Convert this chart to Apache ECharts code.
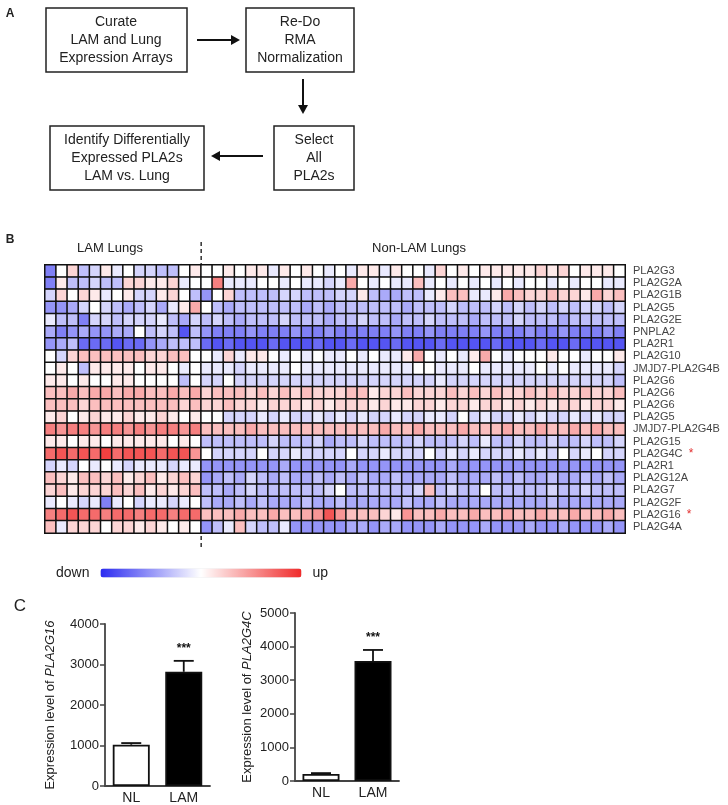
<!DOCTYPE html>
<html><head><meta charset="utf-8">
<script src="https://cdn.jsdelivr.net/npm/echarts@6/dist/echarts.min.js"></script>
<style>html,body{margin:0;padding:0;background:#fff}#c{width:728px;height:805px}</style>
</head><body><div id="c"></div>
<script>
// ---------- DATA ----------
const rowLabels = ['PLA2G3','PLA2G2A','PLA2G1B','PLA2G5','PLA2G2E','PNPLA2','PLA2R1','PLA2G10','JMJD7-PLA2G4B','PLA2G6','PLA2G6','PLA2G6','PLA2G5','JMJD7-PLA2G4B','PLA2G15','PLA2G4C','PLA2R1','PLA2G12A','PLA2G7','PLA2G2F','PLA2G16','PLA2G4A'];
const starredRows = [15, 20];
// LAM lungs (14 samples), value scale -10 (down) .. 10 (up)
const lamValues = [
 [-6,0,2,-3,-2,1,-1,0,-2,-2,-3,-3,0,1],
 [-6,1,-3,-3,-2,-3,-3,2,2,1,1,2,-1,0],
 [-2,2,0,2,1,-1,0,1,-2,-2,1,2,0,-3],
 [-5,-5,-4,-2,0,-2,-3,-4,-3,-2,-4,-1,1,4],
 [-1,-3,-3,-6,-2,-2,-3,-2,-2,-2,-1,-3,-4,-2],
 [-4,-6,-5,-4,-5,-5,-4,-4,0,-3,-2,-3,-8,-3],
 [-5,-4,-3,-7,-7,-7,-8,-7,-7,-5,-4,-3,-3,-3],
 [0,-2,2,3,3,3,3,3,3,2,2,3,3,0],
 [0,1,0,-3,1,1,1,1,0,1,1,0,-1,0],
 [1,1,0,1,0,0,1,1,0,0,0,0,-3,0],
 [3,3,4,3,4,4,3,4,4,3,3,4,3,4],
 [3,3,3,2,3,3,3,3,3,3,3,3,2,3],
 [1,2,0,1,2,1,1,2,1,1,2,1,0,1],
 [6,5,6,6,5,6,6,5,6,5,6,6,5,6],
 [1,1,0,1,1,0,1,1,1,1,1,0,1,0],
 [7,8,7,8,7,9,7,8,8,8,7,8,8,5],
 [-2,-1,-2,0,-1,0,-1,-2,-1,-1,-1,-2,-1,-1],
 [3,2,1,3,3,2,3,1,2,3,1,2,3,2],
 [2,3,1,2,2,2,3,2,3,1,2,1,2,3],
 [-1,0,-1,-2,-1,-6,-1,0,-2,-1,-1,-2,-1,0],
 [6,7,8,7,7,6,7,7,6,7,7,6,7,7],
 [3,-1,2,2,2,0,2,2,1,2,1,0,1,0]
];
// Non-LAM lungs (38 samples)
const nonLamValues = [
 [0,0,1,0,1,1,-1,1,0,1, 0,-1,0,-1,1,1,-1,1,0,0, -1,2,0,1,0,1,1,1,1,1, 2,1,2,0,1,1,1,0],
 [0,6,-1,-1,-1,0,0,-1,0,-1, -1,-2,-1,4,0,-1,0,-1,-1,3, -1,0,-1,0,-1,0,-1,0,-1,0, 0,-1,0,-1,0,0,-1,-1],
 [-5,0,2,-3,-3,-3,-3,-2,-2,-3, -3,-3,-2,-2,1,-3,-4,-4,-3,-3, -1,1,3,3,-1,-1,1,4,3,2, 2,3,2,2,1,4,2,3],
 [0,-3,-4,-3,-3,-3,-3,-3,-3,-4, -3,-4,-3,-3,-3,-3,-3,-3,-4,-3, -3,-3,-2,-3,-3,-3,-2,-3,-2,-3, -2,-3,-2,-3,-2,-2,-3,-2],
 [-3,-2,-3,-4,-3,-3,-3,-2,-3,-3, -3,-4,-3,-3,-2,-3,-3,-4,-3,-3, -2,-3,-3,-3,-4,-3,-3,-3,-2,-3, -3,-3,-4,-3,-3,-3,-3,-3],
 [-5,-6,-6,-6,-5,-6,-6,-6,-5,-6, -6,-5,-6,-6,-6,-6,-6,-5,-6,-6, -5,-6,-6,-6,-6,-5,-6,-6,-6,-5, -6,-6,-5,-6,-6,-6,-5,-6],
 [-7,-8,-7,-8,-8,-8,-7,-8,-8,-8, -7,-8,-8,-7,-8,-8,-8,-7,-8,-8, -8,-7,-8,-8,-8,-8,-7,-8,-8,-8, -7,-8,-8,-7,-8,-8,-8,-8],
 [0,-1,2,-1,1,1,0,-1,0,-1, 0,-1,-1,0,-1,0,-1,-1,1,4, 0,-1,0,-1,1,4,0,-1,0,0, 0,1,0,0,-1,0,0,1],
 [-1,-1,-1,-2,-1,-1,-1,-1,0,-1, -1,-1,-1,-1,-1,-1,-1,-1,-1,0, 0,-1,-1,-1,0,-1,-1,-1,-1,-1, 0,-1,0,-1,-1,-1,-1,-2],
 [-2,-2,0,-2,-2,-2,-2,-2,-2,-2, -2,-2,-2,-2,-2,-2,-2,-2,-2,-2, -2,-1,-2,-2,-2,-2,-2,-2,-2,-2, -2,-2,-2,-2,-2,-2,-2,-3],
 [2,3,3,3,2,3,2,3,2,3, 2,2,2,3,3,1,2,2,3,2, 2,2,3,2,3,2,3,2,2,3, 2,3,2,2,3,2,2,3],
 [2,2,3,2,2,1,2,2,2,1, 2,1,2,2,2,1,2,1,1,2, 2,1,2,2,1,2,2,1,2,1, 2,1,2,2,1,2,2,1],
 [0,0,-2,-2,-2,-1,-2,-1,-2,-2, -1,-2,-1,-2,-1,-2,-2,-1,-2,-2, -1,-1,-2,0,-2,-1,-2,-2,-1,-2, -1,-2,-2,-1,-2,-1,-2,-2],
 [3,3,3,3,4,3,3,3,3,3, 3,3,3,3,3,3,4,3,3,4, 3,3,3,4,3,3,3,4,3,3, 4,3,3,4,3,4,3,3],
 [-3,-3,-3,-3,-3,-3,-2,-3,-3,-3, -2,-4,-3,-3,-2,-3,-3,-3,-3,-2, -3,-3,-3,-2,-3,-1,-3,-3,-2,-3, -3,-2,-3,-3,-2,-3,-3,-2],
 [0,-2,-2,-2,-2,0,-2,-2,-1,-2, -2,-2,-2,0,-2,-2,-1,-2,-2,-2, 0,-2,-1,-2,-1,-2,-2,-2,-1,-2, -1,-2,0,-2,-1,0,-2,-2],
 [-5,-5,-5,-5,-5,-5,-5,-4,-5,-5, -5,-5,-5,-4,-5,-5,-5,-5,-5,-5, -5,-5,-4,-5,-5,-5,-5,-5,-5,-5, -5,-5,-5,-5,-5,-5,-5,-5],
 [-5,-4,-3,-4,-2,-3,-4,-3,-4,-4, -3,-4,-3,-4,-3,-4,-4,-3,-4,-4, -4,-4,-3,-4,-4,-4,-3,-4,-3,-4, -4,-3,-4,-4,-3,-4,-3,-4],
 [-3,-3,-4,-3,-2,-3,-3,-3,-3,-3, -3,-2,0,-3,-3,-3,-3,-3,-3,-2, 3,-3,-2,-3,-3,0,-3,-3,-3,-3, -3,-2,-3,-3,-2,-3,-3,-3],
 [-3,-4,-4,-3,-4,-3,-4,-4,-4,-3, -4,-4,-3,-4,-4,-4,-4,-4,-3,-4, -4,-3,-4,-4,-4,-4,-4,-4,-4,-4, -4,-3,-4,-4,-4,-4,-4,-4],
 [3,3,3,4,3,3,4,3,3,4, 5,8,5,3,3,3,2,1,5,3, 3,4,3,3,4,3,3,4,3,3, 4,3,3,4,3,3,4,3],
 [-5,-3,-1,3,-2,-3,-3,-1,-5,-5, -5,-5,-5,-4,-4,-5,-4,-4,-5,-5, -5,-4,-5,-5,-5,-4,-5,-5,-5,-4, -5,-5,-4,-5,-5,-5,-4,-5]
];
const colorRange = [-10, 10];

const barCategories = ['NL', 'LAM'];
const pla2g16Mean = [1020, 2820];
const pla2g16Upper = [1060, 3090];
const pla2g4cMean = [210, 3570];
const pla2g4cUpper = [235, 3900];
const significance = ['', '***'];
const yTicks16 = {min: 0, max: 4000, interval: 1000};
const yTicks4c = {min: 0, max: 5000, interval: 1000};

// ---------- BUILD ----------
const FONT = 'Liberation Sans, Arial, sans-serif';
const nLam = lamValues[0].length, nNon = nonLamValues[0].length, nCol = nLam + nNon;
const colCats = [];
for (let i = 0; i < nLam; i++) colCats.push('LAM ' + (i + 1));
for (let i = 0; i < nNon; i++) colCats.push('NL ' + (i + 1));
const heatData = [];
rowLabels.forEach((r, ri) => {
  const row = lamValues[ri].concat(nonLamValues[ri]);
  row.forEach((v, ci) => heatData.push([ci, ri, v]));
});
const HM = {left: 45, top: 265, width: 580, height: 268};
const barFill = ['#ffffff', '#000000'];
const AXC = '#444';

function errSeries(mean, upper, xi, yi) {
  return {
    type: 'custom', xAxisIndex: xi, yAxisIndex: yi, z: 5,
    data: barCategories.map((c, i) => [i, mean[i], upper[i]]),
    renderItem: function (params, api) {
      const b = api.coord([api.value(0), api.value(1)]);
      const t = api.coord([api.value(0), api.value(2)]);
      const st = {stroke: '#111', lineWidth: 1.8};
      const ch = [
        {type: 'line', shape: {x1: b[0], y1: b[1], x2: t[0], y2: t[1]}, style: st},
        {type: 'line', shape: {x1: t[0] - 10, y1: t[1], x2: t[0] + 10, y2: t[1]}, style: st}
      ];
      const s = significance[params.dataIndex];
      if (s) ch.push({type: 'text', style: {text: s, x: t[0], y: t[1] - 6, textAlign: 'center', textVerticalAlign: 'bottom', fontSize: 12, fontWeight: 'bold', fontFamily: FONT, fill: '#111'}});
      return {type: 'group', children: ch};
    }
  };
}
function barAxisX(gi) {
  return {gridIndex: gi, type: 'category', data: barCategories,
    axisLine: {lineStyle: {color: AXC, width: 1.8}},
    axisTick: {alignWithLabel: true, length: 5, lineStyle: {color: AXC, width: 1.5}},
    axisLabel: {fontSize: 14, color: '#222', margin: 5, fontFamily: FONT}};
}
function barAxisY(gi, ticks, gene, gap) {
  return {gridIndex: gi, type: 'value', min: ticks.min, max: ticks.max, interval: ticks.interval,
    splitLine: {show: false},
    axisLine: {show: true, lineStyle: {color: AXC, width: 1.8}},
    axisTick: {show: true, length: 5, lineStyle: {color: AXC, width: 1.5}},
    axisLabel: {fontSize: 13, color: '#222', margin: 6, fontFamily: FONT, formatter: v => String(v)},
    name: 'Expression level of {i|' + gene + '}', nameLocation: 'middle', nameGap: gap, nameRotate: 90,
    nameMoveOverlap: false,
    nameTextStyle: {fontSize: 13, color: '#222', fontFamily: FONT,
      rich: {i: {fontStyle: 'italic', fontSize: 13, color: '#222', fontFamily: FONT}}}};
}
function barSeries(mean, xi, yi) {
  return {type: 'bar', xAxisIndex: xi, yAxisIndex: yi, barWidth: 37,
    data: mean.map((v, i) => ({value: v, itemStyle: {color: barFill[i]}})),
    itemStyle: {borderColor: '#111', borderWidth: 1.8}};
}

const txt = (t, x, y, size, extra) => ({type: 'text', style: Object.assign({text: t, x: x, y: y, textAlign: 'center', textVerticalAlign: 'middle', fontSize: size, fontFamily: FONT, fill: '#222', lineHeight: 18}, extra || {})});
const box = (x, y, w, h) => ({type: 'rect', shape: {x: x, y: y, width: w, height: h}, style: {fill: '#fff', stroke: '#222', lineWidth: 1.5}});
const ln = (x1, y1, x2, y2, dash) => ({type: 'line', shape: {x1: x1, y1: y1, x2: x2, y2: y2}, style: {stroke: '#111', lineWidth: dash ? 1.3 : 2, lineDash: dash || null}});
const tri = (pts) => ({type: 'polygon', shape: {points: pts}, style: {fill: '#111'}});

const dashX = HM.left + HM.width * nLam / nCol;
const graphics = [
  txt('A', 10, 14, 12, {fontWeight: 'bold'}),
  box(46, 8, 141, 64), txt('Curate\nLAM and Lung\nExpression Arrays', 116, 40, 14),
  ln(197, 40, 232, 40), tri([[231, 35], [240, 40], [231, 45]]),
  box(246, 8, 108, 64), txt('Re-Do\nRMA\nNormalization', 300, 40, 14),
  ln(303, 79, 303, 106), tri([[298, 105], [303, 114], [308, 105]]),
  box(274, 126, 80, 64), txt('Select\nAll\nPLA2s', 314, 158, 14),
  ln(263, 156, 219, 156), tri([[220, 151], [211, 156], [220, 161]]),
  box(50, 126, 154, 64), txt('Identify Differentially\nExpressed PLA2s\nLAM vs. Lung', 127, 158, 14),
  txt('B', 10, 240, 12, {fontWeight: 'bold'}),
  txt('LAM Lungs', 110, 248, 13),
  txt('Non-LAM Lungs', 419, 248, 13),
  ln(dashX, 242, dashX, 547, [4, 3]),
  txt('C', 20, 606, 17)
];

const option = {
  animation: false,
  backgroundColor: '#fff',
  textStyle: {fontFamily: FONT},
  grid: [
    {left: HM.left, top: HM.top, width: HM.width, height: HM.height},
    {left: 105, top: 624, width: 105, height: 162},
    {left: 295, top: 613, width: 104, height: 168}
  ],
  xAxis: [
    {gridIndex: 0, type: 'category', data: colCats, show: false},
    barAxisX(1), barAxisX(2)
  ],
  yAxis: [
    {gridIndex: 0, type: 'category', data: rowLabels, inverse: true, position: 'right',
      axisLine: {show: false}, axisTick: {show: false},
      axisLabel: {interval: 0, margin: 8, fontSize: 11, color: '#444', fontFamily: FONT,
        formatter: (v, i) => starredRows.indexOf(i) >= 0 ? v + '  {s|*}' : v,
        rich: {s: {color: '#e23030', fontSize: 12, fontFamily: FONT}}}},
    barAxisY(1, yTicks16, 'PLA2G16', 48),
    barAxisY(2, yTicks4c, 'PLA2G4C', 41)
  ],
  visualMap: {
    type: 'continuous', seriesIndex: 0, min: colorRange[0], max: colorRange[1],
    orient: 'horizontal', left: 41, top: 551, itemWidth: 9, itemHeight: 201,
    calculable: false, text: ['up', 'down'], textGap: 11,
    textStyle: {fontSize: 14, color: '#222', fontFamily: FONT},
    inRange: {color: ['#2b2bf0', '#ffffff', '#f02b2b']}
  },
  series: [
    {type: 'heatmap', xAxisIndex: 0, yAxisIndex: 0, data: heatData,
      itemStyle: {borderColor: '#111', borderWidth: 1.5}, emphasis: {disabled: true}},
    barSeries(pla2g16Mean, 1, 1), errSeries(pla2g16Mean, pla2g16Upper, 1, 1),
    barSeries(pla2g4cMean, 2, 2), errSeries(pla2g4cMean, pla2g4cUpper, 2, 2)
  ],
  graphic: graphics
};
const chart = echarts.init(document.getElementById('c'), null, {renderer: 'canvas'});
chart.setOption(option);
</script></body></html>
